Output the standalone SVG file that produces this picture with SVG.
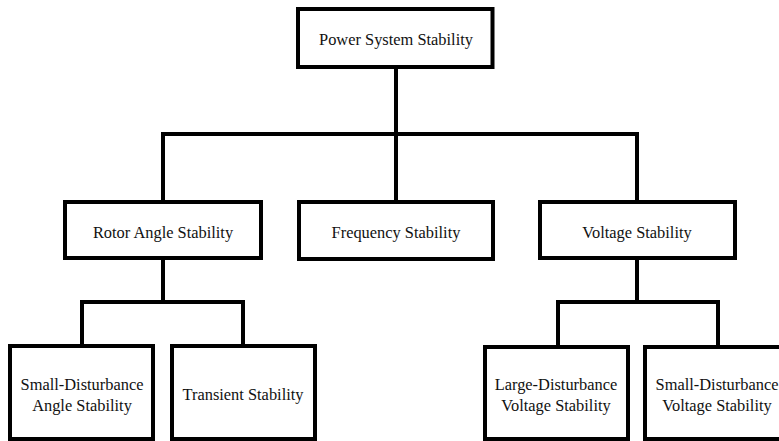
<svg xmlns="http://www.w3.org/2000/svg" width="779" height="441" viewBox="0 0 779 441">
<style>
.box{fill:#fff;stroke:#000;stroke-width:4}
.ln{fill:none;stroke:#000;stroke-width:4;stroke-linejoin:miter;stroke-linecap:square}
text{font-family:"Liberation Serif","Times New Roman",serif;font-size:16.4px;fill:#111;text-anchor:middle}
</style>
<rect width="779" height="441" fill="#fff"/>
<g id="connectors">
<path class="ln" d="M396 67V134M163 200V134H637V200M396 134V200"/>
<path class="ln" d="M163 258V302M82 346V302H243V346"/>
<path class="ln" d="M637 258V302M558 346V302H718V346"/>
</g>
<g id="n-power"><rect class="box" x="298" y="9" width="194.5" height="58"/><text x="396" y="45">Power System Stability</text></g>
<g id="n-rotor"><rect class="box" x="65" y="202" width="196" height="56"/><text x="163" y="238">Rotor Angle Stability</text></g>
<g id="n-freq"><rect class="box" x="299" y="202" width="194" height="57"/><text x="396" y="238">Frequency Stability</text></g>
<g id="n-volt"><rect class="box" x="540" y="202" width="195" height="56"/><text x="637" y="238">Voltage Stability</text></g>
<g id="n-sdas"><rect class="box" x="10" y="346" width="143" height="93"/><text x="82" y="390">Small-Disturbance</text><text x="82" y="411">Angle Stability</text></g>
<g id="n-trans"><rect class="box" x="172" y="346" width="143" height="93"/><text x="243" y="400">Transient Stability</text></g>
<g id="n-ldvs"><rect class="box" x="485" y="347" width="143" height="92"/><text x="556" y="390">Large-Disturbance</text><text x="556" y="411">Voltage Stability</text></g>
<g id="n-sdvs"><rect class="box" x="645" y="347" width="143" height="92"/><text x="717" y="390">Small-Disturbance</text><text x="717" y="411">Voltage Stability</text></g>
</svg>
